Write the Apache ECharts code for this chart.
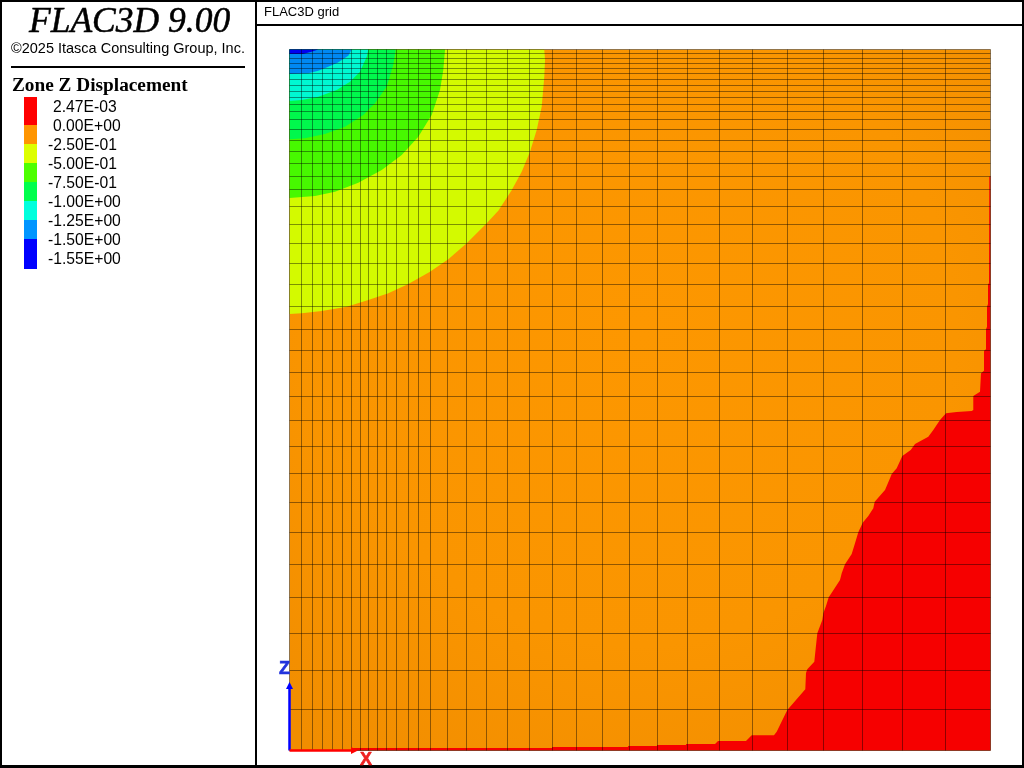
<!DOCTYPE html>
<html><head><meta charset="utf-8">
<style>html,body{margin:0;padding:0;background:#fff}#c{width:1024px;height:768px}</style>
<script src="https://cdn.jsdelivr.net/npm/echarts@6/dist/echarts.min.js"></script>
</head><body><div id="c"></div>
<script>
const gridX = [0.5,12.5,23.5,33.5,43.5,53.5,62.5,71,79.5,88.5,97.5,107.5,119,129.5,141.5,158.5,177.5,197.5,218.5,240.5,263.5,287.5,313.5,340.5,368.5,398.5,430.5,463.5,498.5,534.5,573.5,613.5,656.5,701.5];
const gridZ = [0.5,4.7,9.7,14.3,19.3,24.5,30.3,36.3,42.3,48.5,55.3,62.5,70.3,80.3,91,102,114.3,127.3,140.3,157.3,175.3,194.3,214.3,235.3,257.3,280.3,301.3,323.3,347.3,371.3,397.3,424.3,453.3,483.3,515.3,548.3,584.3,621.3,660.3,701.5];

const contourM155 = [[0.5,5],[14,5],[24,2.3],[29.3,0.5]];
const contourM125 = [[62.7,0.5],[59.3,6.7],[49.3,13.3],[39.3,17.7],[29.3,21.7],[19.3,24.3],[0.5,25]];
const contourM100 = [[79.3,0.5],[77.7,7.7],[71,22.7],[61,32.7],[47.7,41],[29.3,47.7],[12.7,51],[0.5,52]];
const contourM075 = [[106.7,0.5],[104.3,16],[97.7,37.7],[86,54.3],[74.3,66],[56,77.7],[36,85],[16,89.3],[0.5,90.3]];
const contourM050 = [[156,0.5],[154.3,21],[151,41],[142.7,66],[129.3,87.7],[112.7,106],[92.7,121],[69.3,133.7],[46,142.7],[26,147],[0.5,149]];
const contourM025 = [[255.3,0.5],[256,11],[255.3,27.7],[252.7,57.7],[247.7,81],[241,102.7],[232.7,122.7],[222.5,141.5],[209.3,161.7],[197.7,174.3],[177.7,194.3],[159.3,210.3],[141,222.7],[119.3,235],[99.3,244.3],[79.3,251],[57.7,257.7],[32.7,262],[12.7,264.3],[0.5,265]];
const contourP000 = [[63,701.5],[63,699],[263,699],[263,698],[339,698],[339,697],[368,697],[368,696],[397,696],[397,695],[426,695],[429,692],[457,692],[462.7,686.3],[485,686.3],[487.7,682.7],[498.3,661],[516.3,640.3],[517,624],[518.3,620.3],[525.3,612.7],[526,606],[528.3,584.3],[533.3,571],[534.3,564.3],[537,557],[539.7,548.3],[542.7,543.7],[551,531],[552.7,524.3],[556,515.3],[562.7,505],[566,494.3],[569.3,483.3],[573.7,473.7],[579.3,467],[584.3,459.3],[585.7,452.7],[596,441],[601,429.3],[602.7,425],[607.7,419.3],[613.3,407],[621.7,401],[626,395],[639.3,387.7],[644.3,381],[651,371],[657,364.3],[667.7,363],[682.7,362],[684.3,361],[684.3,347],[691,342.7],[692,324.3],[695,321.7],[695,301.7],[697,300.3],[697,280.3],[698,277.7],[698,257.7],[699,255],[699,235.3],[700,234.3],[700.3,127.7],[701.5,127],[701.5,701.5]];

const legendLabels = ['2.47E-03','0.00E+00','-2.50E-01','-5.00E-01','-7.50E-01','-1.00E+00','-1.25E+00','-1.50E+00','-1.55E+00'];
const legendColors = ['#ff0000','#ff9500','#ddff00','#4dff00','#00ff4d','#00ffdd','#0095ff','#0000ff'];
const legendEdges = [97,125,144,163,182,201,220,239,269];
const legendLabelY = [108,127,146,165,184,203,222,241,260];

const corner = [0.5,0.5];
const bands = [
  {pts: contourP000, fill: '#f60000'},
  {pts: contourM025.concat([corner]), fill: '#d3fa00'},
  {pts: contourM050.concat([corner]), fill: '#47f800'},
  {pts: contourM075.concat([corner]), fill: '#00f84c'},
  {pts: contourM100.concat([corner]), fill: '#00f8d2'},
  {pts: contourM125.concat([corner]), fill: '#0088f2'},
  {pts: contourM155.concat([corner]), fill: '#0000f0'}
];
const orange = new echarts.graphic.RadialGradient(0.5,0.4,0.75,[
  {offset:0,color:'#fd9700'},{offset:0.6,color:'#fa9500'},{offset:1,color:'#f18d00'}]);

const crisp = v => Math.floor(v) + 0.5;
const lineColor = 'rgba(0,0,0,0.42)';

const chart = echarts.init(document.getElementById('c'), null, {renderer:'canvas'});
const texts = [];
function txt(text,x,y,font,fill,weight){
  const style={text,x,y,font,fill:fill||'#000',textVerticalAlign:'middle',textAlign:'left'};
  if(weight){style.stroke=fill||'#000';style.lineWidth=weight;}
  texts.push({type:'text',silent:true,z:50,style});
}
function box(x,y,w,h,fill){
  texts.push({type:'rect',silent:true,z:40,shape:{x,y,width:w,height:h},style:{fill}});
}
box(0,0,1024,2,'#000'); box(0,765,1024,3,'#000'); box(0,0,2,768,'#000'); box(1022,0,2,768,'#000');
box(255,0,2,768,'#000'); box(257,24,767,2,'#000'); box(11,66,234,2,'#000');
txt('FLAC3D 9.00',29,23,'italic 35.5px "Liberation Serif"','#000',0.5);
txt('\u00a92025 Itasca Consulting Group, Inc.',11,49,'14.5px "Liberation Sans"');
txt('Zone Z Displacement',12,86,'bold 19.3px "Liberation Serif"');
txt('FLAC3D grid',264,12,'13px "Liberation Sans"');
legendColors.forEach((c,i)=>box(24,legendEdges[i],13,legendEdges[i+1]-legendEdges[i],c));
legendLabels.forEach((t,i)=>txt(t,t[0]==='-'?48:53,legendLabelY[i],'15.7px "Liberation Sans"'));
txt('Z',279,669,'bold 18px "Liberation Sans"','#2233dd',0.6);
txt('X',360,760,'bold 18px "Liberation Sans"','#ee2222',0.6);

chart.setOption({
  animation:false,
  backgroundColor:'#fff',
  grid:{left:289,top:49,width:702,height:702,containLabel:false},
  xAxis:{type:'value',min:0,max:702,show:false},
  yAxis:{type:'value',min:0,max:702,inverse:true,show:false},
  graphic:texts,
  series:[
    {type:'custom',name:'contours',coordinateSystem:'cartesian2d',z:2,silent:true,clip:false,
     data:[[0]].concat(bands.map((b,i)=>[i+1])),
     renderItem(params,api){
       const i=api.value(0);
       if(i===0){
         const a=api.coord([gridX[0],gridZ[0]]),b=api.coord([gridX[gridX.length-1],gridZ[gridZ.length-1]]);
         return {type:'rect',shape:{x:a[0],y:a[1],width:b[0]-a[0],height:b[1]-a[1]},style:{fill:orange}};
       }
       const band=bands[i-1];
       return {type:'polygon',shape:{points:band.pts.map(p=>api.coord(p))},style:{fill:band.fill}};
     }},
    {type:'custom',name:'verticals',coordinateSystem:'cartesian2d',z:3,silent:true,clip:false,
     data:gridX.map(v=>[v]),
     renderItem(params,api){
       const v=api.value(0);
       const a=api.coord([v,gridZ[0]]),b=api.coord([v,gridZ[gridZ.length-1]]);
       return {type:'line',shape:{x1:crisp(a[0]),y1:a[1],x2:crisp(a[0]),y2:b[1]},style:{stroke:lineColor,lineWidth:1}};
     }},
    {type:'custom',name:'horizontals',coordinateSystem:'cartesian2d',z:3,silent:true,clip:false,
     data:gridZ.map(v=>[v]),
     renderItem(params,api){
       const v=api.value(0);
       const a=api.coord([gridX[0],v]),b=api.coord([gridX[gridX.length-1],v]);
       return {type:'line',shape:{x1:a[0],y1:crisp(a[1]),x2:b[0],y2:crisp(a[1])},style:{stroke:lineColor,lineWidth:1}};
     }},
    {type:'custom',name:'triad',coordinateSystem:'cartesian2d',z:4,silent:true,clip:false,
     data:[[0,0],[1,0]],
     renderItem(params,api){
       const o=api.coord([0.5,701.5]);
       if(api.value(0)===0){
         const t=api.coord([0.5,633]);
         return {type:'group',children:[
           {type:'line',shape:{x1:o[0],y1:o[1],x2:t[0],y2:t[1]+4},style:{stroke:'#0000ff',lineWidth:2.5}},
           {type:'polygon',shape:{points:[[t[0],t[1]],[t[0]+3.5,t[1]+7],[t[0]-3.5,t[1]+7]]},style:{fill:'#0000ff'}}
         ]};
       }
       const t=api.coord([69,701.5]);
       return {type:'group',children:[
         {type:'line',shape:{x1:o[0],y1:o[1],x2:t[0]-4,y2:t[1]},style:{stroke:'#ff0000',lineWidth:2.5}},
         {type:'polygon',shape:{points:[[t[0],t[1]],[t[0]-7,t[1]+3.5],[t[0]-7,t[1]-3.5]]},style:{fill:'#ff0000'}}
       ]};
     }}
  ]
});
</script></body></html>
